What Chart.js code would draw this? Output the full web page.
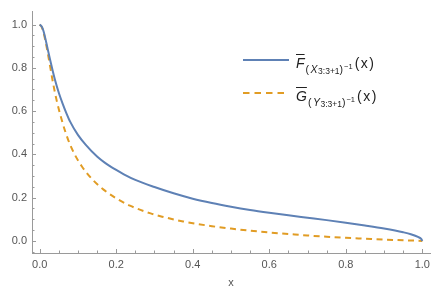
<!DOCTYPE html>
<html>
<head>
<meta charset="utf-8">
<script src="https://cdn.jsdelivr.net/npm/chart.js@4"></script>
<style>
  html, body { margin: 0; padding: 0; background: #fff; }
  #wrap { position: relative; width: 437px; height: 290px; }
  canvas { display: block; }
  .key { position: absolute; left: 243px; }
  .lab { position: absolute; left: 296px; font-family: 'Liberation Sans', Arial, sans-serif;
         font-size: 14px; line-height: 16px; color: #222; white-space: nowrap; }
  .lab .ov { font-style: italic; text-decoration: overline; text-decoration-thickness: 1px; }
  .lab .sub { font-size: 10.5px; vertical-align: -5px; margin-left: 1px; }
  .lab .sub i { margin-left: 1.5px; }
  .lab .sub .s2 { font-size: 8.5px; vertical-align: -1px; margin-left: 0.5px; }
  .lab .sub .sup { font-size: 7.5px; vertical-align: 4px; margin-left: 1px; }
  .lab .arg { margin-left: 2px; letter-spacing: 1.5px; }
</style>
</head>
<body>
<div id="wrap">
  <canvas id="c" width="437" height="290"></canvas>
  <svg class="key" style="top:55px" width="48" height="10"><line x1="0" y1="5" x2="46" y2="5" stroke="#5E81B5" stroke-width="2"/></svg>
  <div class="lab" style="top:55px"><span class="ov">F</span><span class="sub">(<i>X</i><span class="s2">3:3+1</span>)<span class="sup">−1</span></span><span class="arg">(x)</span></div>
  <svg class="key" style="top:88px" width="48" height="10"><line x1="0" y1="5" x2="46" y2="5" stroke="#E19C24" stroke-width="2" stroke-dasharray="6.5,5"/></svg>
  <div class="lab" style="top:88px"><span class="ov">G</span><span class="sub">(<i>Y</i><span class="s2">3:3+1</span>)<span class="sup">−1</span></span><span class="arg">(x)</span></div>
</div>
<script>
const C = { blue: '#5E81B5', orange: '#E19C24', axis: '#9a9a9a', label: '#555' };
const FONT = "'Liberation Sans', Arial, sans-serif";

// F-bar curve (solid blue)
const blueX = [0, 0.005, 0.01, 0.015, 0.02, 0.027, 0.035, 0.04, 0.05, 0.06, 0.07, 0.08, 0.1, 0.12, 0.15, 0.17, 0.2, 0.22, 0.25, 0.3, 0.35, 0.4, 0.45, 0.5, 0.55, 0.6, 0.65, 0.7, 0.75, 0.8, 0.85, 0.9, 0.95, 0.97, 0.99, 0.997, 1.0];
const blueY = [1.0, 0.992, 0.97, 0.935, 0.895, 0.84, 0.78, 0.745, 0.685, 0.635, 0.59, 0.55, 0.49, 0.445, 0.39, 0.362, 0.328, 0.308, 0.282, 0.249, 0.22, 0.195, 0.175, 0.158, 0.143, 0.13, 0.118, 0.107, 0.096, 0.084, 0.071, 0.057, 0.04, 0.031, 0.017, 0.009, 0];

// G-bar curve (dashed orange)
const orangeX = [0, 0.005, 0.01, 0.015, 0.02, 0.027, 0.035, 0.045, 0.06, 0.075, 0.09, 0.11, 0.14, 0.167, 0.2, 0.236, 0.29, 0.32, 0.375, 0.45, 0.5, 0.55, 0.6, 0.65, 0.7, 0.75, 0.8, 0.85, 0.9, 0.95, 1.0];
const orangeY = [1.0, 0.99, 0.965, 0.925, 0.88, 0.81, 0.73, 0.645, 0.545, 0.465, 0.405, 0.345, 0.28, 0.237, 0.197, 0.163, 0.127, 0.112, 0.09, 0.068, 0.057, 0.047, 0.039, 0.032, 0.025, 0.019, 0.014, 0.01, 0.006, 0.003, 0];

const xMajor = [0, 0.2, 0.4, 0.6, 0.8, 1.0];
const yMajor = [0, 0.2, 0.4, 0.6, 0.8, 1.0];
const xMinor = [0.05, 0.1, 0.15, 0.25, 0.3, 0.35, 0.45, 0.5, 0.55, 0.65, 0.7, 0.75, 0.85, 0.9, 0.95];
const yMinor = [-0.05, 0.05, 0.1, 0.15, 0.25, 0.3, 0.35, 0.45, 0.5, 0.55, 0.65, 0.7, 0.75, 0.85, 0.9, 0.95];

const pts = (xs, ys) => xs.map((x, i) => ({ x, y: ys[i] }));

/* ticks drawn inward from the axes, Mathematica style */
const inTicks = {
  id: 'inTicks',
  afterDatasetsDraw(chart) {
    const { ctx, chartArea: a, scales: { x, y } } = chart;
    ctx.save();
    ctx.strokeStyle = C.axis;
    ctx.lineWidth = 1;
    ctx.beginPath();
    const xt = (v, len) => { const p = Math.round(x.getPixelForValue(v)) + 0.5; ctx.moveTo(p, a.bottom); ctx.lineTo(p, a.bottom - len); };
    const yt = (v, len) => { const p = Math.round(y.getPixelForValue(v)) + 0.5; ctx.moveTo(a.left, p); ctx.lineTo(a.left + len, p); };
    xMajor.forEach(v => xt(v, 4));
    xMinor.forEach(v => xt(v, 2.5));
    yMajor.forEach(v => yt(v, 4));
    yMinor.forEach(v => yt(v, 2.5));
    ctx.stroke();
    ctx.restore();
  },
};

new Chart(document.getElementById('c'), {
  type: 'line',
  data: {
    datasets: [
      { data: pts(blueX, blueY), borderColor: C.blue, borderWidth: 2, pointRadius: 0, cubicInterpolationMode: 'monotone', fill: false },
      { data: pts(orangeX, orangeY), borderColor: C.orange, borderWidth: 2, borderDash: [6, 4.5], pointRadius: 0, cubicInterpolationMode: 'monotone', fill: false },
    ],
  },
  options: {
    responsive: false,
    animation: false,
    layout: { padding: { top: 6, right: 7, left: 0, bottom: 0 } },
    plugins: { legend: { display: false }, tooltip: { enabled: false } },
    scales: {
      x: {
        type: 'linear', min: -0.02, max: 1.02,
        afterBuildTicks: s => { s.ticks = xMajor.map(v => ({ value: v })); },
        afterFit: s => { s.height = 37; },
        grid: { display: false, drawTicks: false },
        border: { display: true, color: C.axis, width: 1 },
        ticks: { padding: 5, color: C.label, autoSkip: false, maxRotation: 0, font: { family: FONT, size: 11 }, callback: v => v.toFixed(1) },
        title: { display: true, text: 'x', color: C.label, font: { family: FONT, size: 11 }, padding: { top: 0, bottom: 0 } },
      },
      y: {
        type: 'linear', min: -0.056, max: 1.06,
        afterBuildTicks: s => { s.ticks = yMajor.map(v => ({ value: v })); },
        afterFit: s => { s.width = 32; },
        grid: { display: false, drawTicks: false },
        border: { display: true, color: C.axis, width: 1 },
        ticks: { padding: 5, color: C.label, autoSkip: false, font: { family: FONT, size: 11 }, callback: v => v.toFixed(1) },
      },
    },
  },
  plugins: [inTicks],
});
</script>
</body>
</html>
